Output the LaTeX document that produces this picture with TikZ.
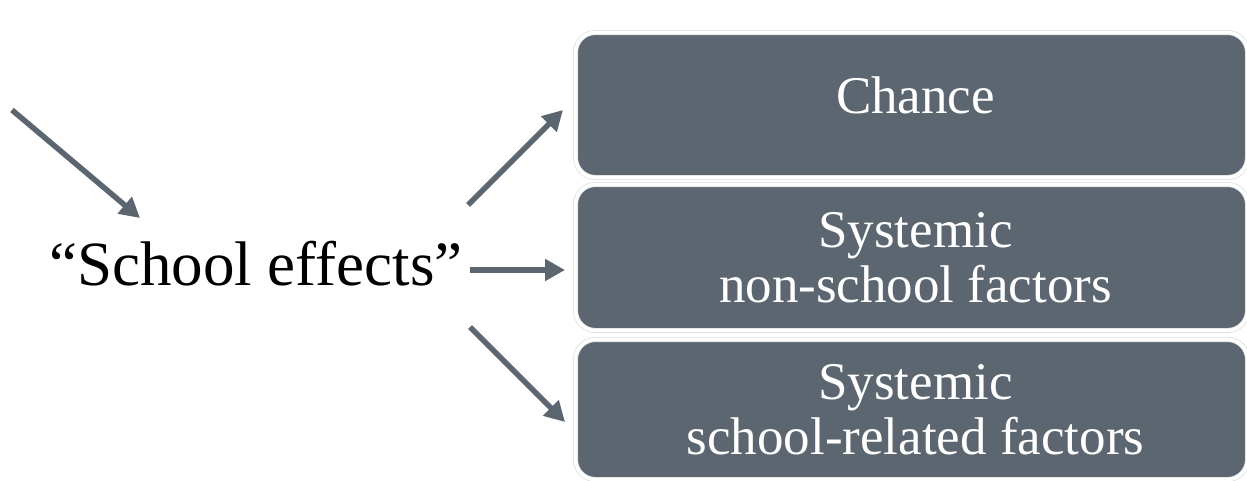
\documentclass[tikz,border=0pt]{standalone}
\usepackage{fontspec}
\setmainfont{Liberation Serif}
\usetikzlibrary{arrows.meta}
\definecolor{slate}{RGB}{91,102,112}
\tikzset{
  box/.style={rectangle, rounded corners=20pt, fill=slate, draw=black!14,
    double=white, double distance=3.6pt, line width=0.7pt,
    minimum width=672pt, inner sep=0pt, text=white, align=center,
    font=\fontsize{53}{55}\selectfont},
  arr/.style={draw=slate, line width=5.5pt, -{Triangle[length=20pt,width=21pt]}},
  lbl/.style={inner sep=0pt, font=\fontsize{63}{70}\selectfont, text=black}
}
\begin{document}
\begin{tikzpicture}[x=1pt,y=-1pt]
\useasboundingbox (0,0) rectangle (1247,480);
\node[box, minimum height=145pt, text height=36pt, text depth=20pt] (b1) at (911.5,105) {\hspace*{8pt}Chance};
\node[box, minimum height=146pt] (b2) at (911.5,257.5) {\hspace*{8pt}Systemic\\\hspace*{8pt}non-school factors};
\node[box, minimum height=140pt] (b3) at (911.5,409.5) {\hspace*{8pt}Systemic\\\hspace*{8pt}school-related factors};
\node[lbl, anchor=base west] (school) at (49,285) {“School effects”};
\coordinate (in0) at (12,110);
\coordinate (in1) at (140,218);
\coordinate (u0) at (468,205);
\coordinate (u1) at (563,110);
\coordinate (m0) at (470,270);
\coordinate (m1) at (565,270);
\coordinate (d0) at (470,327);
\coordinate (d1) at (565,422);
\draw[arr] (in0) -- (in1);
\draw[arr] (u0) -- (u1);
\draw[arr] (m0) -- (m1);
\draw[arr] (d0) -- (d1);
\end{tikzpicture}
\end{document}
